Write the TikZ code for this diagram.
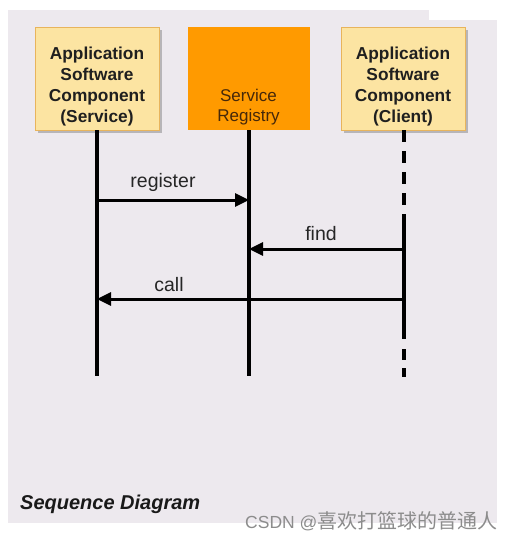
\documentclass[tikz,border=0pt]{standalone}
\usepackage{fontspec}
\setmainfont{Liberation Sans}
\newfontfamily\cjk{Noto Sans CJK SC}
\usetikzlibrary{arrows.meta,shadows}
\definecolor{bgc}{RGB}{237,233,238}
\definecolor{yel}{RGB}{252,228,162}
\definecolor{yelb}{RGB}{232,180,92}
\definecolor{orng}{RGB}{255,154,0}
\definecolor{brn}{RGB}{70,40,10}
\tikzset{
  compbox/.style={draw=yelb, line width=0.8pt, fill=yel, minimum width=124pt, minimum height=103pt,
    inner sep=0pt,
    drop shadow={shadow xshift=2.5pt, shadow yshift=-2.5pt, fill=black!45, opacity=.55}},
  comptext/.style={align=center, font=\fontsize{17.3}{21}\selectfont\bfseries, text=black!88, inner sep=0pt},
  regbox/.style={fill=orng, minimum width=122pt, minimum height=103pt, inner sep=0pt},
  regtext/.style={align=center, font=\fontsize{17}{20.5}\selectfont, text=brn, inner sep=0pt},
  life/.style={line width=3.2pt, black},
  msg/.style={line width=3pt, black, -{Triangle[length=14pt,width=13pt]}},
  lbl/.style={font=\fontsize{19.5}{22}\selectfont, text=black!85, inner sep=0pt}
}
\begin{document}
\begin{tikzpicture}[x=1pt,y=-1pt]
\useasboundingbox (0,0) rectangle (512,541);
\fill[white] (0,0) rectangle (512,541);
\fill[bgc] (8,10) rectangle (497,523);
\fill[white] (429,0) rectangle (512,19.5);
% boxes
\node[compbox] (svc) at (97,78.5) {};
\node[comptext] (svcT) at (97,87) {Application\\Software\\Component\\(Service)};
\node[regbox] (reg) at (248.5,78.5) {};
\node[regtext] (regT) at (248.5,107) {Service\\Registry};
\node[compbox] (cli) at (403,78.5) {};
\node[comptext] (cliT) at (403,87) {Application\\Software\\Component\\(Client)};
% lifeline coordinates
\coordinate (svcEnd) at (97,376);
\coordinate (regEnd) at (249,376);
\coordinate (cliTop) at (404,130);
\coordinate (cliA) at (404,218);
\coordinate (cliB) at (404,339);
\coordinate (cliEnd) at (404,377);
\draw[life] (svc.south -| svcEnd) -- (svcEnd);
\draw[life] (reg.south -| regEnd) -- (regEnd);
\draw[life, dash pattern=on 12pt off 9pt] (cliTop) -- (cliA);
\draw[life] (cliA) -- (cliB);
\draw[life, dash pattern=on 11pt off 8pt] ([yshift=-10pt]cliB) -- (cliEnd);
% message anchor points
\coordinate (r1) at (97,200);
\coordinate (r2) at (249,200);
\coordinate (f1) at (404,249);
\coordinate (f2) at (249,249);
\coordinate (c1) at (404,299);
\coordinate (c2) at (97,299);
\draw[msg] (r1) -- (r2);
\draw[msg] (f1) -- (f2);
\draw[msg] (c1) -- (c2);
\node[lbl] (lr) at (163,182) {register};
\node[lbl] (lf) at (321,234) {find};
\node[lbl] (lc) at (169,285) {call};
% caption
\node[anchor=west, font=\fontsize{20}{21}\selectfont\bfseries\itshape, text=black!90, inner sep=0pt] (cap) at (20,504) {Sequence Diagram};
\node[anchor=west, font=\fontsize{17.5}{19}\selectfont, text=black!45, inner sep=0pt] (wm) at (245,521) {CSDN @{\cjk\fontsize{20}{22}\selectfont 喜欢打篮球的普通人}};
\end{tikzpicture}
\end{document}
